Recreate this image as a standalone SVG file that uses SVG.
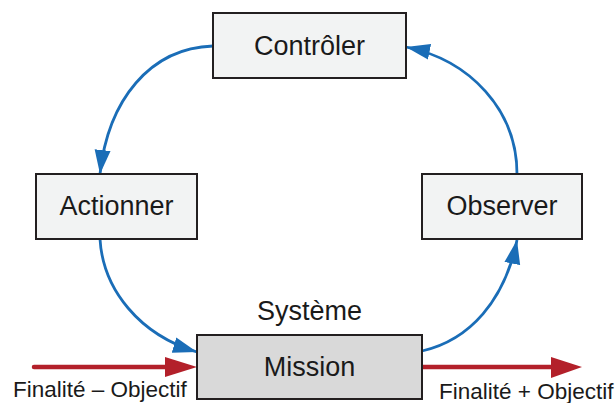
<svg xmlns="http://www.w3.org/2000/svg" width="616" height="403" viewBox="0 0 616 403">
<defs>
<style>
.box{fill:#F2F3F3;stroke:#231F20;stroke-width:2}
.mission{fill:#D9D9D9;stroke:#231F20;stroke-width:2}
.t{font-family:"Liberation Sans",Arial,sans-serif;font-size:27px;fill:#1a1a1a;text-anchor:middle}
.lbl{font-family:"Liberation Sans",Arial,sans-serif;font-size:22.5px;fill:#1a1a1a}
.blue{fill:none;stroke:#1A6DB7;stroke-width:2.8;marker-end:url(#ab)}
.red{fill:none;stroke:#B3202A;stroke-width:4.5;stroke-linecap:round}
</style>
<marker id="ab" markerUnits="userSpaceOnUse" markerWidth="26" markerHeight="18" refX="24" refY="8" orient="auto" viewBox="0 0 26 16">
<path d="M0,0 L24,8 L0,16 Z" fill="#1A6DB7"/>
</marker>
</defs>
<g id="connectors">
<path class="blue" d="M213,46 C150,48 108,100 100,174"/>
<path class="blue" d="M100,239 C103,290 140,335 197,352"/>
<path class="blue" d="M422,351 C470,340 505,300 517,240"/>
<path class="blue" d="M517,174 C517,110 470,60 406,47"/>
<line class="red" x1="34" y1="367" x2="168" y2="367"/>
<polygon points="165,357 197,367 165,377" fill="#B3202A"/>
<line class="red" x1="422" y1="367" x2="554" y2="367"/>
<polygon points="551,357 582,367 551,378" fill="#B3202A"/>
</g>
<g id="controler">
<rect class="box" x="213" y="13" width="193" height="65"/>
<text class="t" x="309.5" y="55">Contrôler</text>
</g>
<g id="actionner">
<rect class="box" x="36" y="174" width="161" height="65"/>
<text class="t" x="116.5" y="215">Actionner</text>
</g>
<g id="observer">
<rect class="box" x="422" y="174" width="160" height="65"/>
<text class="t" x="502" y="215">Observer</text>
</g>
<g id="mission">
<text class="t" x="309.5" y="320">Système</text>
<rect class="mission" x="197" y="335" width="225" height="64"/>
<text class="t" x="309.5" y="376">Mission</text>
</g>
<g id="labels">
<text class="lbl" x="13" y="397">Finalité – Objectif</text>
<text class="lbl" x="439" y="399">Finalité + Objectif</text>
</g>
</svg>
